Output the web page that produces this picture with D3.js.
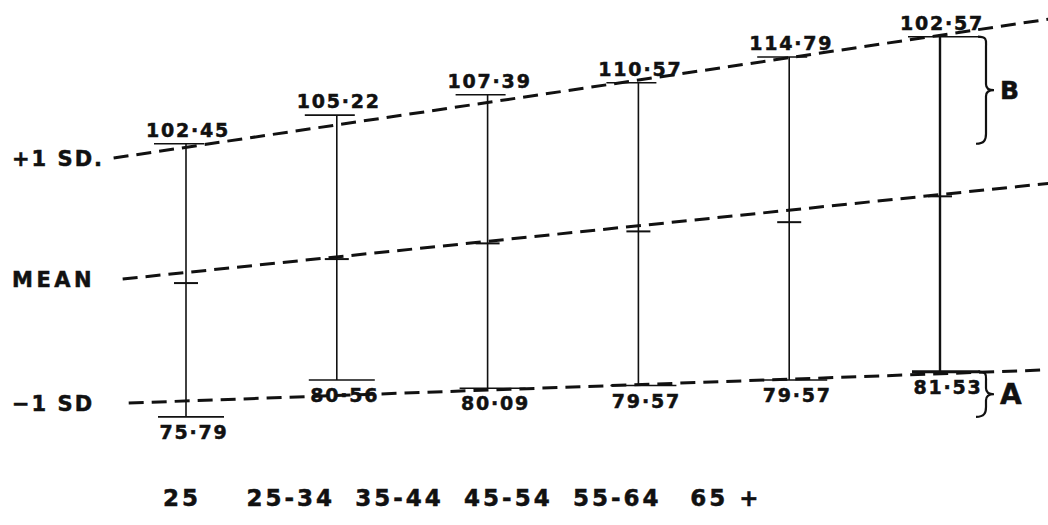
<!DOCTYPE html>
<html>
<head>
<meta charset="utf-8">
<script src="https://cdn.jsdelivr.net/npm/d3@7/dist/d3.min.js"></script>
<style>
  html, body { margin: 0; padding: 0; background: #fff; }
  svg { display: block; }
  text { font-family: "DejaVu Sans", "Liberation Sans", sans-serif; font-weight: bold; fill: #111; stroke: #111; stroke-width: 0.5; }
</style>
</head>
<body>
<svg id="chart" width="1048" height="525"></svg>
<script>
// ---- data ----
const categories   = ["25", "25-34", "35-44", "45-54", "55-64", "65 +"];
const upperLabels  = ["102·45", "105·22", "107·39", "110·57", "114·79", "102·57"];
const lowerLabels  = ["75·79", "80·56", "80·09", "79·57", "79·57", "81·53"];
// plotted (drawn) positions of each bar, in the drawing's value units
const upperPlotted = [105.4, 108.5, 110.7, 112.0, 114.8, 117.0];
const meanPlotted  = [90.3, 92.9, 94.6, 95.9, 96.9, 99.7];
const lowerPlotted = [75.8, 79.8, 78.9, 79.2, 79.8, 80.7];
// dashed guide lines: [column index, value] end points
const plusSDLine   = [[-0.48, 103.85], [5.72, 118.9]];
const meanLine     = [[-0.42, 90.74], [5.72, 101.1]];
const minusSDLine  = [[-0.38, 77.3], [5.72, 80.9]];
const rowLabels    = ["+1 SD.", "MEAN", "−1 SD"];
const braceLabels  = ["B", "A"];

// ---- drawing ----
const svg = d3.select("#chart");
const x = d3.scaleLinear().domain([0, 5]).range([186, 940]);
const y = d3.scaleLinear().domain([70, 120]).range([470.4, 9]);
const xCat = d3.scalePoint().domain(categories).range([182, 726]);
const idx = d3.range(categories.length);

// dashed guide lines
const line = d3.line().x(d => x(d[0])).y(d => y(d[1]));
[plusSDLine, meanLine, minusSDLine].forEach(l => {
  svg.append("path").attr("d", line(l))
    .attr("fill", "none").attr("stroke", "#111")
    .attr("stroke-width", 3).attr("stroke-dasharray", "15 8");
});

// row labels at the left, at the start of each guide line
const rowY = [plusSDLine[0][1], meanLine[0][1], minusSDLine[0][1]];
svg.selectAll("text.row").data(rowLabels).join("text")
  .attr("class", "row")
  .attr("x", 12)
  .attr("y", (d, i) => y(rowY[i]) + 8)
  .attr("font-size", 21)
  .attr("letter-spacing", (d, i) => i === 1 ? 3.5 : 2)
  .text(d => d);

// vertical bars
svg.selectAll("line.bar").data(idx).join("line")
  .attr("class", "bar")
  .attr("x1", i => x(i)).attr("x2", i => x(i))
  .attr("y1", i => y(upperPlotted[i])).attr("y2", i => y(lowerPlotted[i]))
  .attr("stroke", "#111")
  .attr("stroke-width", i => i === 5 ? 2.4 : 1.6);

// top caps
svg.selectAll("line.topcap").data(idx).join("line")
  .attr("class", "topcap")
  .attr("x1", i => x(i) - 32).attr("x2", i => x(i) + (i === 5 ? 40 : 18))
  .attr("y1", i => y(upperPlotted[i])).attr("y2", i => y(upperPlotted[i]))
  .attr("stroke", "#111").attr("stroke-width", 1.6);

// bottom caps
svg.selectAll("line.botcap").data(idx).join("line")
  .attr("class", "botcap")
  .attr("x1", i => x(i) - 28).attr("x2", i => x(i) + (i === 5 ? 40 : 38))
  .attr("y1", i => y(lowerPlotted[i])).attr("y2", i => y(lowerPlotted[i]))
  .attr("stroke", "#111").attr("stroke-width", i => i === 5 ? 3 : 1.6);

// mean ticks
svg.selectAll("line.meantick").data(idx).join("line")
  .attr("class", "meantick")
  .attr("x1", i => x(i) - 12).attr("x2", i => x(i) + 12)
  .attr("y1", i => y(meanPlotted[i])).attr("y2", i => y(meanPlotted[i]))
  .attr("stroke", "#111").attr("stroke-width", 2);

// top value labels
svg.selectAll("text.top").data(idx).join("text")
  .attr("class", "top")
  .attr("x", i => x(i) + 2)
  .attr("y", i => y(upperPlotted[i]) - 7)
  .attr("text-anchor", "middle")
  .attr("font-size", 19)
  .attr("letter-spacing", 1.8)
  .text(i => upperLabels[i]);

// bottom value labels
svg.selectAll("text.bot").data(idx).join("text")
  .attr("class", "bot")
  .attr("x", i => x(i) + 8)
  .attr("y", i => y(lowerPlotted[i]) + 22)
  .attr("text-anchor", "middle")
  .attr("font-size", 19)
  .attr("letter-spacing", 1.8)
  .text(i => lowerLabels[i]);

// category labels
svg.selectAll("text.cat").data(categories).join("text")
  .attr("class", "cat")
  .attr("x", d => xCat(d))
  .attr("y", 506)
  .attr("text-anchor", "middle")
  .attr("font-size", 23)
  .attr("letter-spacing", 3)
  .text(d => d);

// curly braces B (upper spread) and A (lower spread)
function brace(x0, y0, y1, w) {
  const m = (y0 + y1) / 2;
  return `M${x0},${y0} C${x0 + w * 0.6},${y0} ${x0 + w * 0.5},${y0 + 4} ${x0 + w * 0.5},${y0 + 10}`
    + ` L${x0 + w * 0.5},${m - 6} C${x0 + w * 0.5},${m - 2} ${x0 + w * 0.7},${m} ${x0 + w},${m}`
    + ` C${x0 + w * 0.7},${m} ${x0 + w * 0.5},${m + 2} ${x0 + w * 0.5},${m + 6}`
    + ` L${x0 + w * 0.5},${y1 - 10} C${x0 + w * 0.5},${y1 - 4} ${x0 + w * 0.4},${y1} ${x0 - 2},${y1}`;
}
const braces = [
  { y0: y(upperPlotted[5]), y1: y(upperPlotted[0]), label: braceLabels[0], size: 25 },
  { y0: y(lowerPlotted[5]), y1: y(lowerPlotted[0]), label: braceLabels[1], size: 28 }
];
braces.forEach(b => {
  svg.append("path").attr("d", brace(x(5) + 38, b.y0, b.y1, 16))
    .attr("fill", "none").attr("stroke", "#111").attr("stroke-width", 2.2);
  svg.append("text")
    .attr("x", x(5) + 60).attr("y", (b.y0 + b.y1) / 2 + b.size * 0.36)
    .attr("font-size", b.size).text(b.label);
});
</script>
</body>
</html>
